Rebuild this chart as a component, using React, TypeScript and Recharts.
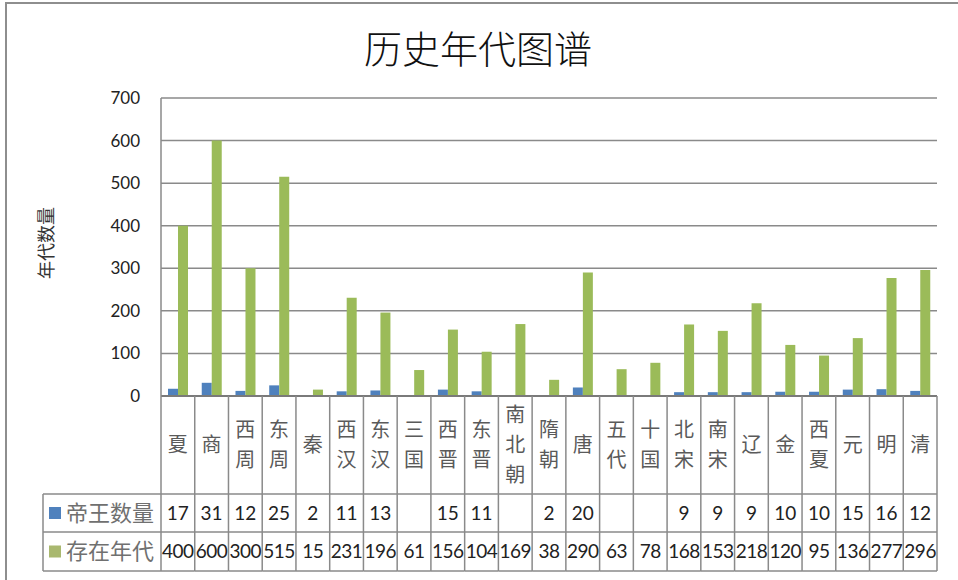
import React from 'react';
import { BarChart, Bar, XAxis, YAxis, CartesianGrid } from 'recharts';

const categories = ['夏','商','西周','东周','秦','西汉','东汉','三国','西晋','东晋','南北朝','隋朝','唐','五代','十国','北宋','南宋','辽','金','西夏','元','明','清'];
const emperors: (number | null)[] = [17,31,12,25,2,11,13,null,15,11,null,2,20,null,null,9,9,9,10,10,15,16,12];
const years: number[] = [400,600,300,515,15,231,196,61,156,104,169,38,290,63,78,168,153,218,120,95,136,277,296];
const yTicks = [0,100,200,300,400,500,600,700];
const seriesNames = ['帝王数量','存在年代'];
const title = '历史年代图谱';
const yLabel = '年代数量';

const data = categories.map((c, i) => ({ name: c, emperors: emperors[i], years: years[i] }));

const W = 958;
const H = 580;
const PLOT_LEFT = 161;
const PLOT_RIGHT = 937;
const PLOT_TOP = 98;
const PLOT_BOTTOM = 396;
const ROW1 = 494;
const ROW2 = 532;
const ROW3 = 571;
const TABLE_LEFT = 43;
const COL_W = (PLOT_RIGHT - PLOT_LEFT) / categories.length;

const BLUE = '#4F81BD';
const GREEN = '#9BBB59';
const LINE = '#8a8a8a';
const CJK = '"Noto Sans CJK SC", "Noto Sans", sans-serif';
const NUM = 'Lato, "Open Sans", sans-serif';

const TableTick = (props: any) => {
  const { x, payload } = props;
  const idx = categories.indexOf(payload.value);
  const l = x - COL_W / 2;
  const r = x + COL_W / 2;
  const chars = String(payload.value).split('');
  const lineH = 30;
  const midCat = (PLOT_BOTTOM + ROW1) / 2;
  const startY = midCat - ((chars.length - 1) * lineH) / 2;
  const e = emperors[idx];
  const yv = years[idx];
  return (
    <g>
      {idx === 0 && (
        <g>
          <line x1={l} y1={PLOT_BOTTOM} x2={l} y2={ROW3} stroke={LINE} strokeWidth={1.5} />
          <line x1={TABLE_LEFT} y1={ROW1} x2={l} y2={ROW1} stroke={LINE} strokeWidth={1.5} />
          <line x1={TABLE_LEFT} y1={ROW2} x2={l} y2={ROW2} stroke={LINE} strokeWidth={1.5} />
          <line x1={TABLE_LEFT} y1={ROW3} x2={l} y2={ROW3} stroke={LINE} strokeWidth={1.5} />
          <line x1={TABLE_LEFT} y1={ROW1} x2={TABLE_LEFT} y2={ROW3} stroke={LINE} strokeWidth={1.5} />
          <rect x={49} y={(ROW1 + ROW2) / 2 - 6} width={12} height={12} fill={BLUE} />
          <text x={66} y={(ROW1 + ROW2) / 2} dy="0.36em" fontFamily={CJK} fontSize={22} fill="#707070">{seriesNames[0]}</text>
          <rect x={49} y={(ROW2 + ROW3) / 2 - 6} width={12} height={12} fill="#a9b86f" />
          <text x={66} y={(ROW2 + ROW3) / 2} dy="0.36em" fontFamily={CJK} fontSize={22} fill="#707070">{seriesNames[1]}</text>
        </g>
      )}
      <line x1={r} y1={PLOT_BOTTOM} x2={r} y2={ROW3} stroke={LINE} strokeWidth={1.5} />
      <line x1={l} y1={ROW1} x2={r} y2={ROW1} stroke={LINE} strokeWidth={1.5} />
      <line x1={l} y1={ROW2} x2={r} y2={ROW2} stroke={LINE} strokeWidth={1.5} />
      <line x1={l} y1={ROW3} x2={r} y2={ROW3} stroke={LINE} strokeWidth={1.5} />
      {chars.map((ch, k) => (
        <text key={k} x={x} y={startY + k * lineH} dy="0.36em" textAnchor="middle" fontFamily={CJK} fontSize={20} fill="#5a5a5a">{ch}</text>
      ))}
      {e !== null && (
        <text x={x} y={(ROW1 + ROW2) / 2} dy="0.36em" textAnchor="middle" fontFamily={NUM} fontSize={19} fill="#222">{e}</text>
      )}
      <text x={x} y={(ROW2 + ROW3) / 2} dy="0.36em" textAnchor="middle" fontFamily={NUM} fontSize={19} fill="#222" letterSpacing={-0.5}>{yv}</text>
    </g>
  );
};

const YLabel = (props: any) => {
  const vb = props.viewBox || { y: PLOT_TOP, height: PLOT_BOTTOM - PLOT_TOP };
  const cx = 47;
  const cy = vb.y + vb.height / 2 - 4;
  return (
    <text x={cx} y={cy} dy="0.36em" textAnchor="middle" transform={`rotate(-90 ${cx} ${cy})`} fontFamily={CJK} fontSize={18} fill="#333">{yLabel}</text>
  );
};

export default function App() {
  return (
    <div style={{ position: 'absolute', left: 0, top: 0, width: W, height: H, background: '#fff', overflow: 'hidden' }}>
      <div style={{ position: 'absolute', left: 5, top: 2, width: W, height: H, borderLeft: '2px solid #8e8e8e', borderTop: '2px solid #8e8e8e', boxSizing: 'border-box' }} />
      <div style={{ position: 'absolute', left: 0, top: 21, width: W - 2, textAlign: 'center', fontFamily: CJK, fontSize: 38, fontWeight: 300, color: '#111', lineHeight: '52px' }}>{title}</div>
      <div style={{ position: 'absolute', left: 0, top: 0 }}>
        <BarChart width={W} height={H} data={data} margin={{ top: PLOT_TOP, right: W - PLOT_RIGHT, left: 0, bottom: 9 }} barGap={0} barSize={10}>
          <CartesianGrid vertical={false} stroke={LINE} strokeWidth={1.5} />
          <XAxis dataKey="name" height={H - PLOT_BOTTOM - 9} axisLine={{ stroke: '#7a7a7a', strokeWidth: 2 }} tickLine={false} interval={0} tick={<TableTick />} />
          <YAxis width={PLOT_LEFT} domain={[0, 700]} ticks={yTicks} interval={0} axisLine={{ stroke: LINE, strokeWidth: 1.5 }} tickLine={false} tickSize={0} tickMargin={21} tick={{ fontFamily: NUM, fontSize: 17, fill: '#222' }} label={<YLabel />} />
          <Bar dataKey="emperors" fill={BLUE} isAnimationActive={false} />
          <Bar dataKey="years" fill={GREEN} isAnimationActive={false} />
        </BarChart>
      </div>
    </div>
  );
}
